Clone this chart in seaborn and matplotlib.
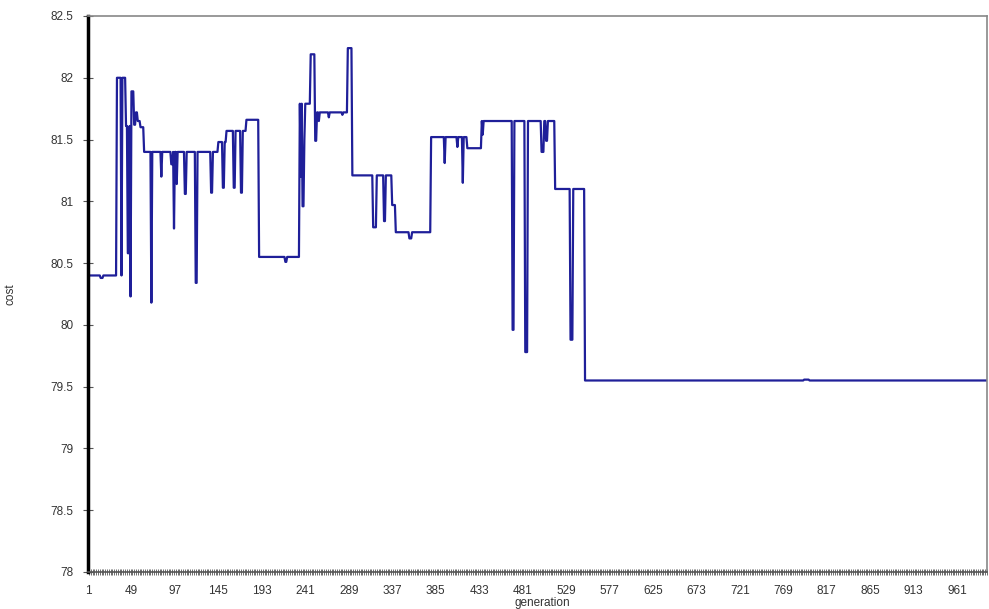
import numpy as np
import pandas as pd
import matplotlib
matplotlib.use("Agg")
import matplotlib.pyplot as plt
import seaborn as sns
from matplotlib.ticker import FixedLocator, MultipleLocator, FormatStrFormatter

# plateaus: generation where the level starts and its cost
step_gen = [1, 33, 43, 49, 52, 54, 56, 59, 63, 145, 154, 176, 190, 235, 247, 254,
            288, 293, 337, 341, 380, 420, 436, 517, 550]
step_cost = [80.40, 82.00, 81.61, 81.89, 81.62, 81.72, 81.65, 81.60, 81.40, 81.48, 81.57, 81.66, 80.55, 81.79, 82.19, 81.72,
             82.24, 81.21, 80.97, 80.75, 81.52, 81.43, 81.65, 81.10, 79.55]

# short downward dips: first gen, last gen, cost
dip_from = [15, 38, 45, 48, 71, 82, 93, 96, 99, 108, 120, 137, 150, 162, 170, 219,
            236, 238, 240, 252, 256, 267, 282, 316, 328, 356, 395, 409, 415, 437,
            470, 484, 502, 507, 534, 792]
dip_to = [17, 38, 46, 48, 71, 82, 94, 96, 99, 109, 121, 138, 151, 163, 171, 220,
          236, 239, 240, 253, 256, 267, 282, 319, 329, 358, 395, 409, 415, 437,
          471, 486, 504, 508, 536, 797]
dip_cost = [80.38, 80.40, 80.58, 80.23, 80.18, 81.20, 81.30, 80.78, 81.14, 81.06, 80.34, 81.07, 81.11, 81.11, 81.07, 80.51,
            81.20, 80.96, 81.50, 81.49, 81.65, 81.68, 81.70, 80.79, 80.84, 80.70, 81.31, 81.44, 81.15, 81.54,
            79.96, 79.78, 81.40, 81.49, 79.88, 79.557]

n_gen = 1000
xtick_vals = [1, 49, 97, 145, 193, 241, 289, 337, 385, 433, 481, 529, 577, 625, 673, 721, 769, 817, 865, 913, 961]

gen = np.arange(1, n_gen + 1)
cost = np.empty(n_gen)
for i, g in enumerate(step_gen):
    end = step_gen[i + 1] if i + 1 < len(step_gen) else n_gen + 1
    cost[g - 1:end - 1] = step_cost[i]
for a, b, c in zip(dip_from, dip_to, dip_cost):
    cost[a - 1:b] = c

df = pd.DataFrame({"generation": gen, "cost": cost})

sns.set_style("white")
plt.rcParams["font.family"] = ["Liberation Sans", "DejaVu Sans"]

fig = plt.figure(figsize=(9.89, 6.09), dpi=100)
ax = fig.add_axes([88 / 989, 1 - 572 / 609, 899 / 989, 556 / 609])
sns.lineplot(data=df, x="generation", y="cost", ax=ax, color="#1f1f99", linewidth=1.6)

ax.set_xlim(1, 994)
ax.set_ylim(78, 82.5)
ax.yaxis.set_major_locator(MultipleLocator(0.5))
ax.yaxis.set_major_formatter(FormatStrFormatter("%g"))
ax.xaxis.set_major_locator(FixedLocator(xtick_vals))
ax.xaxis.set_minor_locator(MultipleLocator(2))

ax.tick_params(axis="y", direction="inout", length=7, width=0.8, color="#555555",
               labelsize=8.5, labelcolor="#333333", pad=7, left=True)
ax.tick_params(axis="x", which="major", length=0, labelsize=8.5, labelcolor="#333333", pad=9)
ax.tick_params(axis="x", which="minor", direction="inout", length=4, width=0.6,
               color="#555555", bottom=True)

for side in ["top", "right"]:
    ax.spines[side].set_visible(True)
    ax.spines[side].set_color("#888888")
    ax.spines[side].set_linewidth(1.2)
ax.spines["left"].set_color("black")
ax.spines["left"].set_linewidth(2.5)
ax.spines["bottom"].set_color("#555555")
ax.spines["bottom"].set_linewidth(1.2)

ax.set_xlabel("generation", fontsize=8.5, color="#333333")
ax.set_ylabel("cost", fontsize=8.5, color="#333333")
ax.xaxis.set_label_coords(0.505, -0.045)
ax.yaxis.set_label_coords(-0.08, 0.5)

fig.savefig("out.png", dpi=100)
